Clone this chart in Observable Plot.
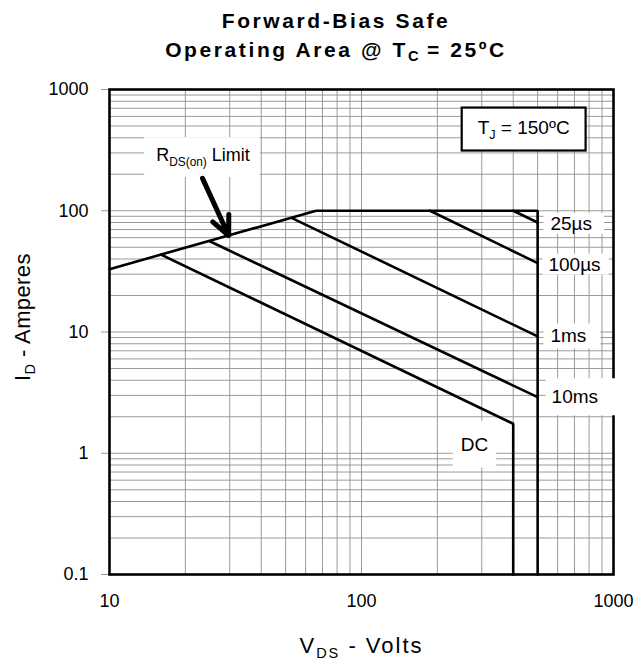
<!DOCTYPE html>
<html><head><meta charset="utf-8">
<script src="https://cdn.jsdelivr.net/npm/d3@7"></script>
<script src="https://cdn.jsdelivr.net/npm/@observablehq/plot@0.6"></script>
<style>
body{margin:0;background:#fff;font-family:"Liberation Sans",Arial,sans-serif;}
#title{width:635px;height:76px;box-sizing:border-box;padding-top:6px;padding-left:37px;text-align:center;font-weight:bold;font-size:21px;line-height:29px;color:#000;letter-spacing:2.6px;white-space:nowrap}
#title sub{font-size:70%;vertical-align:-4px;line-height:0;letter-spacing:0}
</style></head><body>
<div id="title">Forward-Bias Safe<br>Operating Area @ T<sub>C</sub> = 25ºC</div>
<div id="chart"></div>
<script>
// ---- data ----
const xTickValues = [10, 100, 1000];
const xTickLabels = ["10", "100", "1000"];
const yTickValues = [0.1, 1, 10, 100, 1000];
const yTickLabels = ["0.1", "1", "10", "100", "1000"];
const xGridValues = [20,30,40,50,60,70,80,90,100,200,300,400,500,600,700,800,900];
const yGridValues = [0.2,0.3,0.4,0.5,0.6,0.7,0.8,0.9,1,2,3,4,5,6,7,8,9,10,20,30,40,50,60,70,80,90,100,200,300,400,500,600,700,800,900];

// SOA boundary: RDS(on) limit, current limit, voltage limit
const limitVds = [10, 66, 500, 500];
const limitId  = [33, 100, 100, 0.1];
// pulse lines
const us25Vds = [400, 500];   const us25Id = [100, 80];
const us100Vds = [187, 500];  const us100Id = [100, 37];
const ms1Vds = [53, 500];     const ms1Id = [87, 9.2];
const ms10Vds = [25, 500];    const ms10Id = [56, 2.9];
const dcVds = [16, 400, 400]; const dcId = [43.5, 1.75, 0.1];

// annotations (data coordinates)
const pulseLabels = ["25µs", "100µs", "1ms", "10ms"];
const pulseLabelVds = [562, 552, 562, 568];
const pulseLabelId = [78, 36, 9.2, 2.9];
const dcLabel = ["DC"]; const dcLabelVds = [281]; const dcLabelId = [1.18];
const tjLabel = ["T_{J} = 150ºC"]; const tjLabelVds = [440]; const tjLabelId = [486];
const rdsLabel = ["R_{DS(on)} Limit"]; const rdsLabelVds = [23.5]; const rdsLabelId = [286];
const arrowFromVds = [23.4]; const arrowFromId = [185];
const arrowToVds = [29.7];   const arrowToId = [62.5];

// ---- build tables ----
const curves = [
  ["limit", limitVds, limitId], ["25us", us25Vds, us25Id], ["100us", us100Vds, us100Id],
  ["1ms", ms1Vds, ms1Id], ["10ms", ms10Vds, ms10Id], ["dc", dcVds, dcId]
].flatMap(([name, V, I]) => V.map((v, i) => ({name, v, i: I[i]})));
const pulseRows = pulseLabels.map((t, k) => ({t, v: pulseLabelVds[k], i: pulseLabelId[k]}));
const arrowRows = arrowFromVds.map((v, k) => ({x1: v, y1: arrowFromId[k], x2: arrowToVds[k], y2: arrowToId[k]}));

const FONT = '"Liberation Sans", Arial, sans-serif';
const LABEL_SIZE = 19;

const plot = Plot.plot({
  width: 635, height: 588,
  marginTop: 13, marginRight: 22, marginBottom: 90, marginLeft: 109,
  style: {fontFamily: FONT, fontSize: "18px", background: "white", color: "black", overflow: "visible"},
  x: {type: "log", domain: [10, 1000], ticks: xTickValues, tickFormat: (d) => xTickLabels[xTickValues.indexOf(d)], tickSize: 0, tickPadding: 20, label: null},
  y: {type: "log", domain: [0.1, 1000], ticks: yTickValues, tickFormat: (d) => yTickLabels[yTickValues.indexOf(d)], tickSize: 8, tickPadding: 13, label: null},
  marks: [
    Plot.ruleX(xGridValues, {stroke: "#8f8f8f", strokeWidth: 0.9}),
    Plot.ruleY(yGridValues, {stroke: "#8f8f8f", strokeWidth: 0.9}),
    Plot.line(curves, {x: "v", y: "i", z: "name", stroke: "black", strokeWidth: 2.6, strokeLinejoin: "miter"}),
    Plot.frame({stroke: "black", strokeWidth: 2.6}),
    Plot.text(pulseRows, {x: "v", y: "i", text: "t", textAnchor: "start", fontSize: LABEL_SIZE}),
    Plot.text(dcLabel, {x: () => dcLabelVds[0], y: () => dcLabelId[0], text: (d) => d, fontSize: LABEL_SIZE}),
    Plot.text(tjLabel, {x: () => tjLabelVds[0], y: () => tjLabelId[0], text: (d) => d, fontSize: LABEL_SIZE}),
    Plot.text(rdsLabel, {x: () => rdsLabelVds[0], y: () => rdsLabelId[0], text: (d) => d, fontSize: 18}),
    Plot.arrow(arrowRows, {x1: "x1", y1: "y1", x2: "x2", y2: "y2", stroke: "black", strokeWidth: 5, headLength: 14, headAngle: 50}),
    Plot.text(["V_{DS} - Volts"], {frameAnchor: "bottom", dy: 71, lineAnchor: "middle", textAnchor: "middle", fontSize: 22}),
    Plot.text(["I_{D} - Amperes"], {frameAnchor: "left", dx: -87, dy: -15, rotate: -90, lineAnchor: "middle", textAnchor: "middle", fontSize: 22})
  ]
});
document.getElementById("chart").appendChild(plot);

// ---- post-processing: tick colour, subscripts and white label backgrounds ----
const svgns = "http://www.w3.org/2000/svg";
d3.select(plot).selectAll('g[aria-label="y-axis tick"] path, g[aria-label="y-axis"] .tick line').attr("stroke", "#999");
const letterSpacing = {"V_{DS} - Volts": "2px", "I_{D} - Amperes": "0.4px"};
function subify(el) {
  const s = el.textContent;
  if (!s.includes("_{")) return;
  const fs = parseFloat(getComputedStyle(el).fontSize) || 16;
  const parts = s.split(/(_\{[^}]*\})/);
  el.textContent = "";
  let shifted = false;
  for (const p of parts) {
    if (!p) continue;
    const t = document.createElementNS(svgns, "tspan");
    if (p.startsWith("_{")) {
      t.textContent = p.slice(2, -1);
      t.setAttribute("font-size", (fs * 0.66) + "px");
      t.setAttribute("dy", (fs * 0.26) + "px");
      shifted = true;
    } else {
      t.textContent = p;
      if (shifted) { t.setAttribute("dy", (-fs * 0.26) + "px"); shifted = false; }
    }
    el.appendChild(t);
  }
}
const bgPad = {
  "25µs": [7, 12, 0, 0], "100µs": [6, 8, 0, 0], "1ms": [7, 14, 2, 2], "10ms": [6, 19, 8, 8],
  "DC": [8, 8, 13, 13], "T_{J} = 150ºC": [16, 16, 9, 9], "R_{DS(on)} Limit": [12, 10, 8, 8]
};
const boxed = new Set(["T_{J} = 150ºC"]);
d3.select(plot).selectAll("text").each(function () {
  const key = this.textContent;
  if (key in letterSpacing) this.setAttribute("letter-spacing", letterSpacing[key]);
  subify(this);
  if (!(key in bgPad)) return;
  const pad = bgPad[key];
  const b = this.getBBox();
  const r = document.createElementNS(svgns, "rect");
  r.setAttribute("x", b.x - pad[0]);
  r.setAttribute("y", b.y - pad[2]);
  r.setAttribute("width", b.width + pad[0] + pad[1]);
  r.setAttribute("height", b.height + pad[2] + pad[3]);
  r.setAttribute("fill", "white");
  if (boxed.has(key)) { r.setAttribute("stroke", "black"); r.setAttribute("stroke-width", 2.2); }
  const tr = this.getAttribute("transform");
  if (tr) r.setAttribute("transform", tr);
  this.parentNode.insertBefore(r, this);
});
</script>
</body></html>
